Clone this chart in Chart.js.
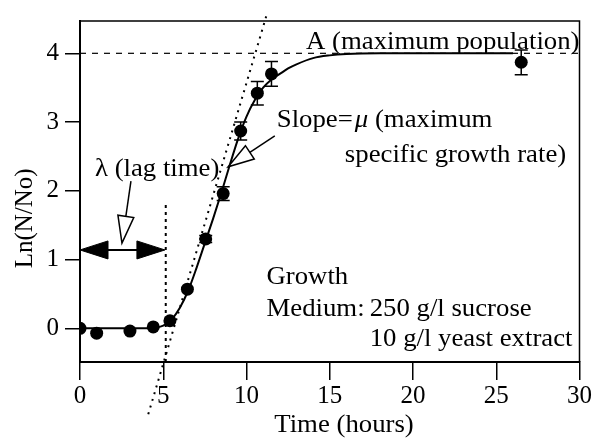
<!DOCTYPE html>
<html>
<head>
<meta charset="utf-8">
<script src="https://cdn.jsdelivr.net/npm/chart.js@4/dist/chart.umd.min.js"></script>
<style>
html,body{margin:0;padding:0;background:#fff;}
#wrap{width:593px;height:440px;}
</style>
</head>
<body>
<div id="wrap"><canvas id="myChart" width="593" height="440"></canvas></div>
<script>
// measured points (hours, ln(N/No)) and their error bars
var timeVals = [0, 1, 3, 4.4, 5.4, 6.45, 7.55, 8.6, 9.65, 10.65, 11.5, 26.5];
var lnVals   = [0, -0.07, -0.04, 0.02, 0.11, 0.57, 1.3, 1.96, 2.87, 3.42, 3.7, 3.87];
var errVals  = [0, 0, 0, 0, 0, 0, 0.05, 0.1, 0.13, 0.17, 0.18, 0.18];

// fitted growth curve
var curveTime = [0, 1, 2, 3, 4, 4.5, 5, 5.5, 6, 6.5, 7, 7.5, 8, 8.5, 9, 9.5, 10, 10.5, 11, 11.5, 12, 12.5, 13, 14, 15, 16, 18, 22, 26];
var curveLn   = [0, 0, 0, 0, 0, 0.01, 0.04, 0.13, 0.3, 0.55, 0.88, 1.24, 1.6, 1.98, 2.38, 2.76, 3.08, 3.32, 3.5, 3.62, 3.7, 3.78, 3.84, 3.93, 3.97, 3.99, 4, 4, 4];

// guide lines
var maxPopX = [0, 30],      maxPopY = [4, 4];
var lagX    = [5.15, 5.15], lagY    = [-0.49, 1.82];
var slopeX  = [4.1, 11.2],  slopeY  = [-1.25, 4.55];
var lagTime = 5.1, lagArrowY = 1.14;

var xTicks = [0, 5, 10, 15, 20, 25, 30];
var yTicks = [0, 1, 2, 3, 4];

function toPts(xs, ys){
  return xs.map(function(x, i){ return {x: x, y: ys[i]}; });
}

var FONT = '25px "Liberation Serif", "Times New Roman", serif';
var WIDEN = 1.07; // the scanned lettering is a bit wider than the font

function arrowHead(ctx, tx, ty, fx, fy, len, half, filled){
  var ang = Math.atan2(ty - fy, tx - fx);
  var bx = tx - Math.cos(ang) * len, by = ty - Math.sin(ang) * len;
  var nx = -Math.sin(ang) * half, ny = Math.cos(ang) * half;
  ctx.beginPath();
  ctx.moveTo(tx, ty);
  ctx.lineTo(bx + nx, by + ny);
  ctx.lineTo(bx - nx, by - ny);
  ctx.closePath();
  ctx.fillStyle = filled ? '#000' : '#fff';
  ctx.fill();
  ctx.stroke();
  return {x: bx, y: by};
}

function wideText(ctx, t, x, y, align){
  ctx.save();
  ctx.translate(x, y);
  ctx.scale(WIDEN, 1);
  ctx.textAlign = align || 'left';
  ctx.fillText(t, 0, 0);
  ctx.restore();
}

var extras = {
  id: 'extras',
  afterDatasetsDraw: function(chart){
    var ctx = chart.ctx, a = chart.chartArea;
    var xs = chart.scales.x, ys = chart.scales.y;
    var px = function(v){ return xs.getPixelForValue(v); };
    var py = function(v){ return ys.getPixelForValue(v); };
    ctx.save();
    ctx.strokeStyle = '#000';

    // top and right frame
    ctx.lineWidth = 1.5;
    ctx.beginPath();
    ctx.moveTo(a.left, a.top); ctx.lineTo(a.right, a.top); ctx.lineTo(a.right, a.bottom);
    ctx.stroke();

    // error bars
    timeVals.forEach(function(t, i){
      var e = errVals[i];
      if(!e) return;
      var x = px(t), y1 = py(lnVals[i] - e), y2 = py(lnVals[i] + e);
      ctx.beginPath();
      ctx.moveTo(x, y1); ctx.lineTo(x, y2);
      ctx.moveTo(x - 6.5, y1); ctx.lineTo(x + 6.5, y1);
      ctx.moveTo(x - 6.5, y2); ctx.lineTo(x + 6.5, y2);
      ctx.stroke();
    });

    // lag time double arrow
    var ly = py(lagArrowY), l0 = px(0), l1 = px(lagTime);
    ctx.lineWidth = 2;
    ctx.beginPath(); ctx.moveTo(l0 + 20, ly); ctx.lineTo(l1 - 20, ly); ctx.stroke();
    ctx.lineWidth = 1;
    arrowHead(ctx, l0, ly, l1, ly, 28, 9, true);
    arrowHead(ctx, l1, ly, l0, ly, 28, 9, true);

    // hollow pointer arrows
    var pointers = [
      {fx: 3.06, fy: 2.14, tx: 2.52, ty: 1.24, len: 27, half: 8},
      {fx: 11.7, fy: 2.80, tx: 8.9, ty: 2.35, len: 26, half: 8}
    ];
    pointers.forEach(function(p){
      var tx = px(p.tx), ty = py(p.ty), fx = px(p.fx), fy = py(p.fy);
      ctx.lineWidth = 1.5;
      var b = arrowHead(ctx, tx, ty, fx, fy, p.len, p.half, false);
      ctx.beginPath(); ctx.moveTo(fx, fy); ctx.lineTo(b.x, b.y); ctx.stroke();
    });

    // text notes
    ctx.fillStyle = '#000';
    ctx.font = FONT;
    ctx.textBaseline = 'alphabetic';
    var notes = [
      {t: 'A (maximum population)', x: 30, y: 4.07, align: 'right'},
      {t: '\u03bb (lag time)', x: 0.9, y: 2.21},
      {t: 'specific growth rate)', x: 29.2, y: 2.42, align: 'right'},
      {t: 'Growth', x: 11.2, y: 0.64},
      {t: 'Medium:', x: 11.2, y: 0.18},
      {t: '250 g/l sucrose', x: 17.4, y: 0.18},
      {t: '10 g/l yeast extract', x: 17.4, y: -0.25}
    ];
    notes.forEach(function(n){
      wideText(ctx, n.t, px(n.x), py(n.y), n.align);
    });

    // "Slope=μ (maximum" with italic mu
    var sx = px(11.82), sy = py(2.93);
    wideText(ctx, 'Slope=', sx, sy);
    sx += ctx.measureText('Slope=').width * WIDEN + 2;
    ctx.font = 'italic ' + FONT;
    wideText(ctx, '\u03bc', sx, sy);
    sx += ctx.measureText('\u03bc').width * WIDEN;
    ctx.font = FONT;
    wideText(ctx, ' (maximum', sx, sy);

    // axis titles
    ctx.textBaseline = 'alphabetic';
    wideText(ctx, 'Time (hours)', 344, 432, 'center');
    ctx.save();
    ctx.translate(25, py(1.6));
    ctx.rotate(-Math.PI / 2);
    ctx.textAlign = 'center';
    ctx.textBaseline = 'middle';
    ctx.fillText('Ln(N/No)', 0, 0);
    ctx.restore();

    ctx.restore();
  }
};

var ctx = document.getElementById('myChart').getContext('2d');
var myChart = new Chart(ctx, {
  type: 'scatter',
  data: {
    datasets: [{
      label: 'measured',
      data: toPts(timeVals, lnVals),
      backgroundColor: '#000',
      borderColor: '#000',
      pointRadius: 6.5,
      borderWidth: 0,
      showLine: false
    }, {
      label: 'fit',
      data: toPts(curveTime, curveLn),
      borderColor: '#000',
      borderWidth: 2,
      pointRadius: 0,
      showLine: true,
      cubicInterpolationMode: 'monotone'
    }, {
      label: 'A',
      data: toPts(maxPopX, maxPopY),
      borderColor: '#000',
      borderWidth: 1.2,
      borderDash: [6, 6],
      pointRadius: 0,
      showLine: true
    }, {
      label: 'lag',
      data: toPts(lagX, lagY),
      borderColor: '#000',
      borderWidth: 2,
      borderDash: [3, 4],
      pointRadius: 0,
      showLine: true
    }, {
      label: 'slope',
      data: toPts(slopeX, slopeY),
      borderColor: '#000',
      borderWidth: 2,
      borderDash: [2, 5],
      pointRadius: 0,
      showLine: true,
      clip: false
    }]
  },
  options: {
    responsive: false,
    animation: false,
    layout: { padding: { top: 15, right: 13, left: 0, bottom: 0 } },
    plugins: { legend: { display: false }, tooltip: { enabled: false } },
    scales: {
      x: {
        type: 'linear',
        min: 0, max: 30,
        afterFit: function(s){ s.height = 78; },
        afterBuildTicks: function(s){ s.ticks = xTicks.map(function(v){ return {value: v}; }); },
        grid: { drawOnChartArea: false, drawTicks: true, tickLength: 18, color: '#000', lineWidth: 1.5 },
        border: { color: '#000', width: 2 },
        ticks: { color: '#000', font: { family: '"Liberation Serif"', size: 25 }, padding: 1, maxRotation: 0 }
      },
      y: {
        type: 'linear',
        min: -0.49, max: 4.47,
        afterFit: function(s){ s.width = 80; },
        afterBuildTicks: function(s){ s.ticks = yTicks.map(function(v){ return {value: v}; }); },
        grid: { drawOnChartArea: false, drawTicks: true, tickLength: 15, color: '#000', lineWidth: 1.5 },
        border: { color: '#000', width: 2 },
        ticks: { color: '#000', font: { family: '"Liberation Serif"', size: 25 }, padding: 6 }
      }
    }
  },
  plugins: [extras]
});
</script>
</body>
</html>
